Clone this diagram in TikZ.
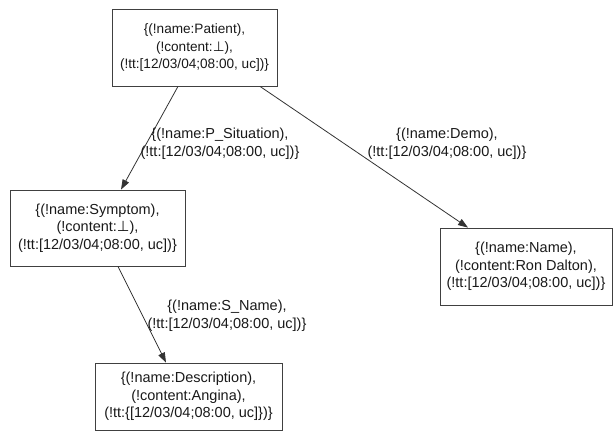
\documentclass[tikz,border=0pt]{standalone}
\usepackage{fontspec}
\setmainfont{Liberation Sans}
\newfontfamily\symfont{DejaVu Sans}
\usetikzlibrary{arrows.meta}
\newcommand{\bott}{{\symfont ⊥}}
\tikzset{
  record/.style={draw=black!75, line width=0.8pt, align=center, inner sep=0pt,
    font=\fontsize{14.5}{17.5}\selectfont, text=black!90},
  edgelabel/.style={align=center, inner sep=0pt,
    font=\fontsize{14.5}{17.5}\selectfont, text=black!90},
  link/.style={draw=black!80, line width=0.8pt, -{Triangle[length=10pt,width=7pt]}}
}
\begin{document}
\begin{tikzpicture}[x=1pt, y=-1pt]
\useasboundingbox (0,0) rectangle (614,432);

% Draw the records
\node[record, minimum width=165pt, minimum height=77pt, font=\fontsize{13.6}{17.5}\selectfont] (patient) at (194.5, 47.5)
  {\{(!name:Patient),\\(!content:\bott),\\(!tt:[12/03/04;08:00, uc])\}};
\node[record, minimum width=175pt, minimum height=76pt] (symptom) at (97.5, 228)
  {\{(!name:Symptom),\\(!content:\bott),\\(!tt:[12/03/04;08:00, uc])\}};
\node[record, minimum width=172pt, minimum height=77pt] (name) at (526, 266.5)
  {\{(!name:Name),\\(!content:Ron Dalton),\\(!tt:[12/03/04;08:00, uc])\}};
\node[record, minimum width=187pt, minimum height=67pt] (description) at (188.5, 396.5)
  {\{(!name:Description),\\(!content:Angina),\\(!tt:\{[12/03/04;08:00, uc]\})\}};

% Draw the links and their labels
\draw[link] ([xshift=-16.5pt]patient.south) -- ([xshift=23.5pt]symptom.north);
\draw[link] ([xshift=65.5pt]patient.south) -- ([xshift=-58pt]name.north);
\draw[link] ([xshift=20.5pt]symptom.south) -- ([xshift=-22.5pt]description.north);
\node[edgelabel] (situation) at (220, 143.5) {\{(!name:P\_Situation),\\(!tt:[12/03/04;08:00, uc])\}};
\node[edgelabel] (demo) at (447, 143.5) {\{(!name:Demo),\\(!tt:[12/03/04;08:00, uc])\}};
\node[edgelabel] (sname) at (227, 315.5) {\{(!name:S\_Name),\\(!tt:[12/03/04;08:00, uc])\}};
\end{tikzpicture}
\end{document}
